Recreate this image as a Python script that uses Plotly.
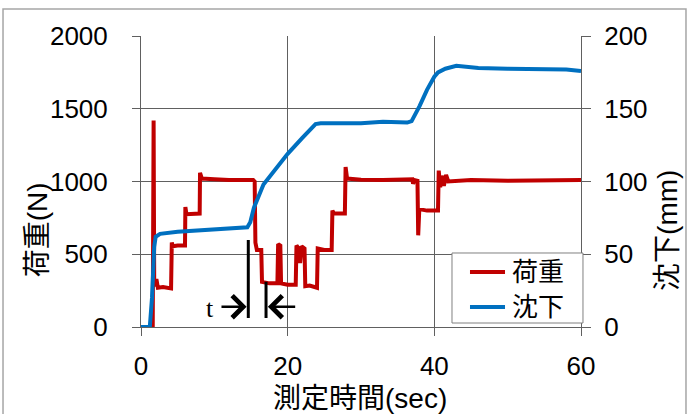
import plotly.graph_objects as go

# ---- data ----
load_t = [0, 1.6, 1.72, 1.8, 1.95, 2.1, 2.3, 3.0, 4.1, 4.2, 4.35, 5.0, 6.0, 6.05, 6.2, 7.0, 8.0, 8.05, 8.3,
          10.0, 12.0, 15.3, 15.5, 15.6, 15.8, 16.4, 16.5, 17.5, 18.6, 18.7, 19.0, 19.1, 20.0, 21.1, 21.2,
          21.5, 21.7, 21.9, 22.3, 22.4, 23.0, 24.0, 24.1, 25.0, 26.0, 26.1, 26.3, 27.8, 27.9, 28.1, 30.0,
          33.0, 37.0, 37.1, 37.3, 37.7, 37.8, 37.95, 39.0, 40.5, 40.6, 40.8, 41.0, 41.3, 41.6, 41.9, 45.0,
          50.0, 55.0, 60.0]
load_n = [0, 0, 1420, 320, 280, 330, 270, 275, 265, 580, 555, 560, 560, 825, 775, 780, 780, 1060, 1020,
          1015, 1010, 1010, 1000, 580, 530, 530, 310, 300, 300, 570, 560, 300, 290, 290, 560,
          540, 440, 555, 540, 280, 285, 270, 540, 530, 530, 800, 780, 780, 1100, 1020, 1012,
          1010, 1015, 985, 1010, 1005, 630, 810, 800, 800, 1075, 960, 1040, 970, 1045, 1000, 1010,
          1005, 1010, 1010]

settle_t = [0, 1.2, 1.5, 1.8, 2.0, 2.6, 5.0, 8.0, 11.0, 14.0, 14.5, 14.9, 15.4, 16.7, 18.0, 20.0, 22.0,
            23.2, 23.8, 24.5, 30.0, 33.0, 36.3, 36.9, 37.3, 38.0, 39.0, 40.0, 40.5, 41.5, 43.0, 44.0,
            46.0, 50.0, 55.0, 58.0, 60.0]
settle_mm = [0, 0, 20, 55, 62, 64, 65.5, 66.5, 67, 68, 68.5, 72, 82, 98, 106.5, 119, 130,
             137, 139.5, 140, 140, 141, 140.5, 141.5, 145, 152, 163, 172, 175, 177.5, 179.5, 179,
             178, 177.5, 177.5, 177, 176]

x_ticks = [0, 20, 40, 60]
load_ticks = [0, 500, 1000, 1500, 2000]
settle_ticks = [0, 50, 100, 150, 200]

series_names = ["荷重", "沈下"]

# annotation marker for "t"
t_line1_x, t_line2_x = 14.63, 17.05
t_line1_top, t_line2_top, t_line_bot = 598, 311, 62
arrow_y = 140

FONT = "Liberation Sans, Arial, Noto Sans CJK JP, sans-serif"
RED = "#C00000"
BLUE = "#0070C0"
GRID = "#606060"

fig = go.Figure()
fig.add_trace(go.Scatter(x=load_t, y=load_n, name=series_names[0], mode="lines",
                         line=dict(color=RED, width=4), yaxis="y"))
fig.add_trace(go.Scatter(x=settle_t, y=settle_mm, name=series_names[1], mode="lines",
                         line=dict(color=BLUE, width=4), yaxis="y2"))

fig.update_layout(
    width=692, height=414,
    margin=dict(l=141, r=111, t=36, b=87),
    paper_bgcolor="white", plot_bgcolor="white",
    font=dict(family=FONT, size=26, color="black"),
    showlegend=False,
    xaxis=dict(range=[0, 60], tickvals=x_ticks, showgrid=True, gridcolor=GRID, gridwidth=1,
               showline=True, linecolor=GRID, linewidth=1, ticks="outside", ticklen=8,
               tickcolor=GRID, zeroline=False, ticklabelstandoff=8, fixedrange=True),
    yaxis=dict(range=[0, 2000], tickvals=load_ticks, showgrid=True, gridcolor=GRID, gridwidth=1,
               showline=True, linecolor=GRID, linewidth=1, ticks="outside", ticklen=8,
               tickcolor=GRID, zeroline=False, ticklabelstandoff=19),
    yaxis2=dict(range=[0, 200], tickvals=settle_ticks, overlaying="y", side="right",
                showgrid=False, showline=True, linecolor=GRID, linewidth=1, ticks="outside",
                ticklen=9, tickcolor=GRID, zeroline=False, ticklabelstandoff=8),
)

# outer chart border
fig.add_shape(type="rect", xref="paper", yref="paper", x0=-0.3136, x1=1.2386, y0=-0.35, y1=1.0928,
              line=dict(color="#a6a6a6", width=1.5), layer="below")

# legend (drawn manually for exact placement)
fig.add_shape(type="rect", xref="paper", yref="paper", x0=0.7068, x1=1.0045, y0=0.0137, y1=0.2543,
              line=dict(color="#808080", width=1), fillcolor="white", layer="above")
for name, color, yp in [(series_names[0], RED, 0.189), (series_names[1], BLUE, 0.0687)]:
    fig.add_shape(type="line", xref="paper", yref="paper", x0=0.7477, x1=0.8273, y0=yp, y1=yp,
                  line=dict(color=color, width=4), layer="above")
    fig.add_annotation(x=0.8386, y=yp, xref="paper", yref="paper", text=name, showarrow=False,
                       xanchor="left", yanchor="middle", font=dict(size=26))

# "t" marker lines
fig.add_shape(type="line", xref="x", yref="y", x0=t_line1_x, x1=t_line1_x, y0=t_line_bot, y1=t_line1_top,
              line=dict(color="black", width=3))
fig.add_shape(type="line", xref="x", yref="y", x0=t_line2_x, x1=t_line2_x, y0=t_line_bot, y1=t_line2_top,
              line=dict(color="black", width=3))
fig.add_annotation(x=14.4, y=arrow_y, ax=10.77, ay=arrow_y, xref="x", yref="y", axref="x", ayref="y",
                   showarrow=True, arrowhead=4, arrowsize=1.7, arrowwidth=2.5, arrowcolor="black", text="")
fig.add_annotation(x=17.3, y=arrow_y, ax=21.23, ay=arrow_y, xref="x", yref="y", axref="x", ayref="y",
                   showarrow=True, arrowhead=4, arrowsize=1.7, arrowwidth=2.5, arrowcolor="black", text="")
fig.add_annotation(x=9.41, y=124, xref="x", yref="y", text="t", showarrow=False,
                   font=dict(family="Liberation Serif, Times New Roman, serif", size=26, color="black"))

# axis titles
fig.add_annotation(x=-0.236, y=0.333, xref="paper", yref="paper", text="荷重(N)", showarrow=False,
                   textangle=-90, xanchor="center", yanchor="middle", font=dict(size=28))
fig.add_annotation(x=1.195, y=0.333, xref="paper", yref="paper", text="沈下(mm)", showarrow=False,
                   textangle=-90, xanchor="center", yanchor="middle", font=dict(size=28))
fig.add_annotation(x=0.498, y=-0.2474, xref="paper", yref="paper", text="測定時間(sec)", showarrow=False,
                   xanchor="center", yanchor="middle", font=dict(size=28))

fig.write_html("out.html", config={"displayModeBar": False},
               post_script="document.body.style.margin='0';document.body.style.overflow='hidden';")
